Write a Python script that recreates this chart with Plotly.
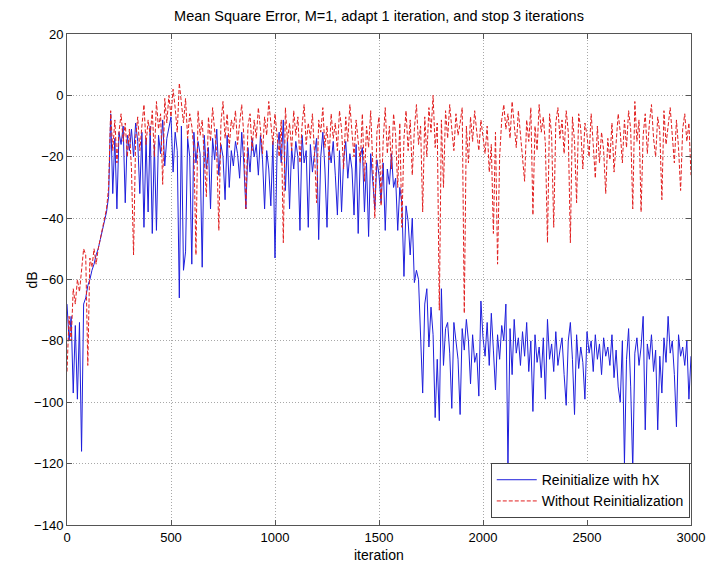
import plotly.graph_objects as go

# iteration sampling: every 10 iterations from 0 to 3000
iter_start = 0
iter_step = 10

reinit_hx = [
    -68, -80, -72, -97, -75, -99, -74, -116, -68, -66,
    -62, -60, -57, -55, -52, -50, -47, -44, -40, -38,
    -33, -6, -32, -14, -37, -12, -16, -10, -35, -13,
    -18, -11, -20, -9, -15, -32, -12, -43, -14, -38,
    -10, -45, -16, -44, -13, -19, -8, -23, -14, -11,
    -7, -25, -12, -18, -66, -10, -57, -51, -14, -20,
    -55, -12, -22, -15, -19, -56, -13, -24, -17, -37,
    -14, -21, -11, -26, -16, -20, -34, -13, -30, -18,
    -23, -15, -19, -27, -12, -22, -37, -17, -25, -14,
    -20, -16, -26, -13, -21, -37, -18, -24, -36, -15,
    -53, -18, -12, -22, -8, -31, -14, -37, -17, -24,
    -15, -20, -44, -13, -22, -18, -43, -16, -25, -19,
    -14, -47, -20, -12, -24, -43, -17, -22, -15, -26,
    -39, -18, -38, -21, -15, -27, -19, -24, -39, -16,
    -45, -20, -17, -38, -22, -46, -19, -28, -37, -21,
    -26, -35, -22, -44, -24, -29, -19, -30, -27, -44,
    -30, -35, -59, -36, -41, -52, -40, -61, -57, -60,
    -80, -97, -68, -63, -82, -69, -78, -105, -86, -106,
    -63, -88, -76, -74, -84, -102, -74, -81, -86, -104,
    -76, -83, -73, -80, -94, -78, -87, -84, -98, -67,
    -79, -85, -74, -88, -71, -83, -96, -78, -86, -75,
    -80, -68, -121, -76, -91, -73, -84, -79, -88, -77,
    -85, -74, -90, -80, -103, -78, -87, -82, -92, -79,
    -99, -73, -86, -81, -90, -77, -88, -83, -79, -91,
    -101, -80, -74, -86, -104, -78, -89, -82, -87, -99,
    -77, -84, -80, -90, -78, -86, -81, -91, -79, -85,
    -82, -88, -78, -92, -83, -95, -100, -80, -120, -86,
    -76, -95, -122, -84, -79, -88, -82, -72, -109, -81,
    -86, -78, -90, -83, -109, -85, -97, -79, -87, -72,
    -84, -80, -91, -108, -78, -85, -82, -88, -80, -99,
    -85,
]

without_reinit = [
    -90, -72, -80, -63, -68, -60, -64, -56, -50, -52,
    -88, -53, -56, -50, -55, -50, -47, -44, -40, -37,
    -30, -5, -18, -8, -22, -12, -6, -15, -9, -20,
    -11, -24, -52, -14, -7, -18, -10, -3, -16, -8,
    -13, -5, -20, -2, -11, -6, -29, -1, -9, 0,
    -7, 2, -4, -12, 4, -3, -9, -1, -14, -6,
    -10, -18, -52, -5, -13, -8, -20, -33, -7, -15,
    -4, -12, -19, -44, -9, -2, -14, -6, -17, -8,
    -11, -5, -16, -9, -3, -13, -37, -10, -6, -18,
    -8, -14, -4, -11, -19, -7, -13, -2, -10, -16,
    -6, -12, -20, -8, -48, -4, -15, -9, -18, -5,
    -13, -7, -22, -10, -3, -16, -9, -14, -6, -19,
    -35, -8, -12, -4, -17, -10, -21, -6, -14, -9,
    -18, -5, -11, -24, -7, -15, -3, -12, -20, -8,
    -14, -22, -6, -28, -10, -17, -5, -25, -40, -12,
    -7, -36, -15, -4, -19, -10, -24, -6, -13, -30,
    -9, -43, -14, -5, -18, -8, -26, -11, -3, -16,
    -10, -38, -7, -20, -4, -12, 0, -17, -9, -70,
    -8, -30, -5, -14, -3, -11, -18, -6, -13, -9,
    -4, -71, -10, -22, -7, -15, -5, -12, -18, -8,
    -13, -19, -10, -25, -16, -45, -12, -55, -20, -8,
    -3, -11, -6, -14, -2, -9, -17, -5, -12, -21,
    -28, -8, -15, -4, -39, -10, -18, -3, -12, -7,
    -16, -48, -6, -13, -43, -9, -4, -14, -8, -19,
    -5, -12, -48, -7, -15, -35, -6, -11, -24, -9,
    -13, -20, -6, -16, -27, -10, -22, -12, -18, -32,
    -14, -21, -9, -25, -16, -6, -12, -22, -8, -17,
    -5, -11, -37, -2, -15, -8, -38, -13, -6, -19,
    -9, -3, -14, -20, -7, -12, -34, -5, -16, -10,
    -4, -13, -22, -8, -17, -31, -11, -6, -15, -9,
    -26,
]

x_ticks = [0, 500, 1000, 1500, 2000, 2500, 3000]
y_ticks = [20, 0, -20, -40, -60, -80, -100, -120, -140]

FONT = "Liberation Sans, Arial, Helvetica, sans-serif"

fig = go.Figure()
fig.add_trace(go.Scatter(
    x0=iter_start, dx=iter_step, y=reinit_hx, mode="lines",
    name="Reinitialize with hX",
    line=dict(color="rgb(30,30,220)", width=1),
))
fig.add_trace(go.Scatter(
    x0=iter_start, dx=iter_step, y=without_reinit, mode="lines",
    name="Without Reinitialization",
    line=dict(color="rgb(225,30,30)", width=1, dash="4px,2px"),
))

axis_common = dict(
    showline=True, linecolor="#555555", linewidth=1, mirror="ticks",
    ticks="inside", ticklen=5, tickcolor="#555555",
    showgrid=True, gridcolor="#a8a8a8", griddash="1px,2px", gridwidth=1,
    zeroline=False, automargin=False,
    tickfont=dict(family=FONT, size=13, color="black"),
)

fig.update_layout(
    width=709, height=565,
    margin=dict(l=67, r=18, t=34, b=40),
    paper_bgcolor="white", plot_bgcolor="white",
    font=dict(family=FONT, size=13, color="black"),
    title=dict(text="Mean Square Error, M=1, adapt 1 iteration, and stop 3 iterations",
               x=0.5, xref="paper", xanchor="center", y=0.972, yanchor="middle",
               font=dict(family=FONT, size=14.5, color="black")),
    xaxis=dict(range=[0, 3000], tickvals=x_ticks, **axis_common),
    yaxis=dict(range=[-140, 20], tickvals=y_ticks, **axis_common),
    annotations=[
        dict(text="dB", textangle=-90, xref="paper", yref="paper",
             x=-0.0561, y=0.5, xanchor="center", yanchor="middle",
             showarrow=False, font=dict(family=FONT, size=14, color="black")),
        dict(text="iteration", xref="paper", yref="paper",
             x=0.5, y=-0.0611, xanchor="center", yanchor="middle",
             showarrow=False, font=dict(family=FONT, size=14, color="black")),
    ],
    legend=dict(x=0.998, y=0.014, xanchor="right", yanchor="bottom",
                bgcolor="white", bordercolor="#444444", borderwidth=1,
                font=dict(family=FONT, size=14, color="black"),
                itemwidth=40, tracegroupgap=0),
    showlegend=True,
)

fig.write_html("out.html")
